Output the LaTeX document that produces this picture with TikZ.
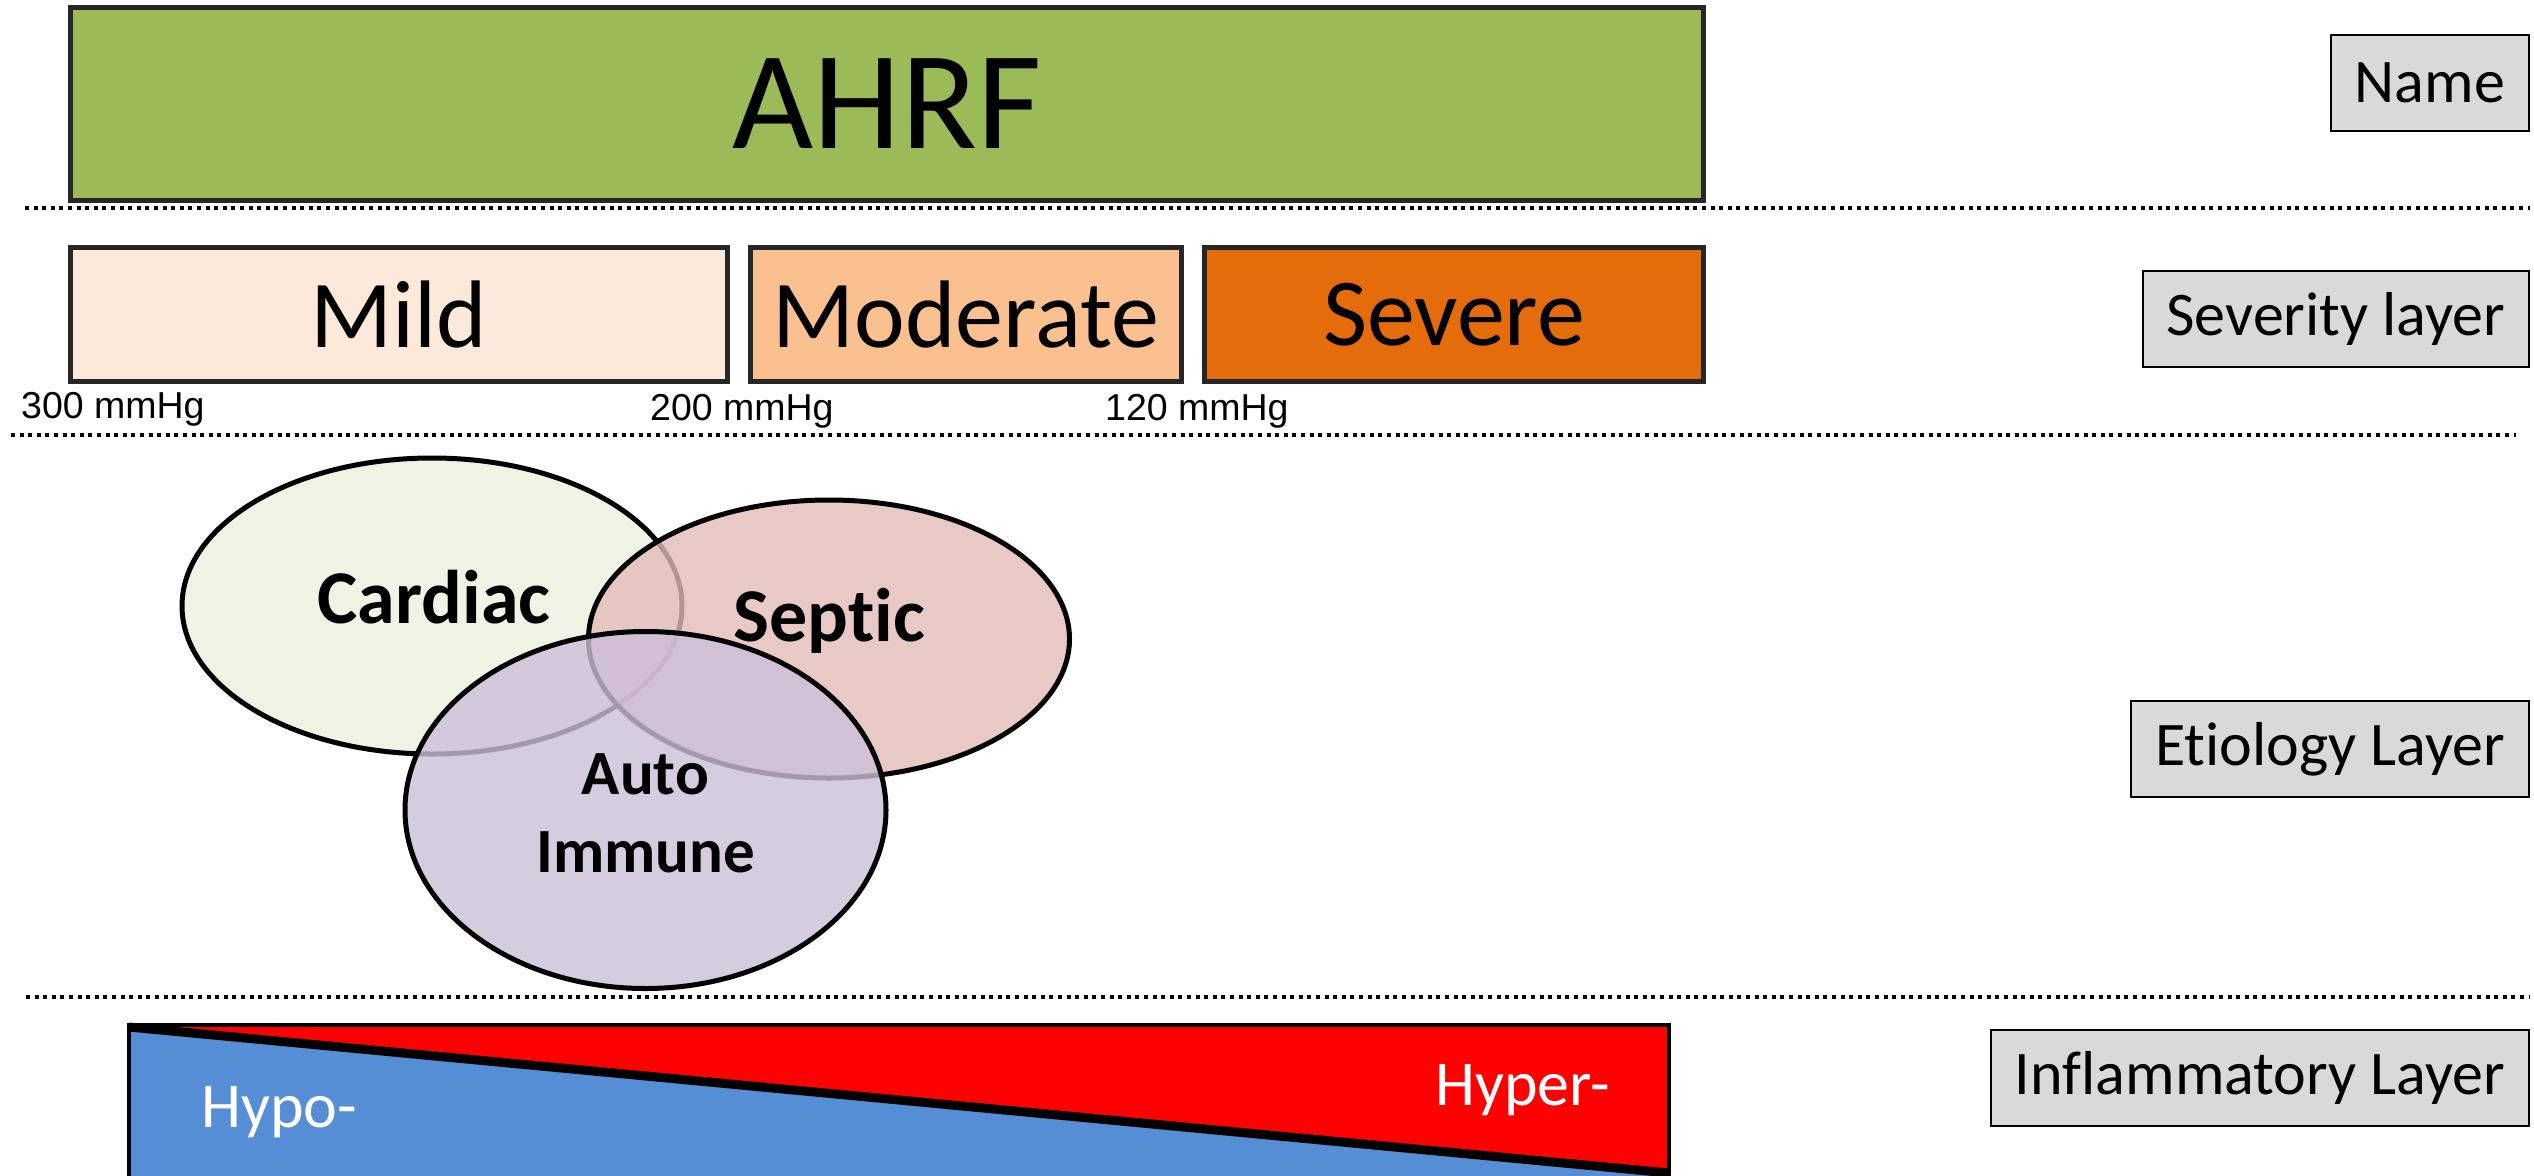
\documentclass[tikz,border=0pt]{standalone}
\usepackage{fontspec}
\setmainfont[Ligatures={NoCommon,NoContextual},Contextuals={NoAlternate}]{Carlito}
\newfontfamily\arialf{Liberation Sans}
\usetikzlibrary{shapes.geometric}
\definecolor{ahrfc}{HTML}{9BBB59}
\definecolor{mildc}{HTML}{FDE9D9}
\definecolor{modc}{HTML}{FAC090}
\definecolor{sevc}{HTML}{E46C0A}
\definecolor{framec}{HTML}{262626}
\definecolor{labc}{HTML}{D9D9D9}
\definecolor{cardc}{RGB}{239,243,228}
\definecolor{septc}{RGB}{227,187,184}
\definecolor{autoc}{RGB}{204,191,216}
\definecolor{hyperc}{HTML}{FF0000}
\definecolor{hypoc}{HTML}{558ED5}
\newcommand\myfs[1]{\fontsize{#1}{#1}\selectfont}
\begin{document}
\begin{tikzpicture}[x=1pt,y=-1pt,
  bigbox/.style={draw=framec,line width=5pt,rectangle,inner sep=0pt},
  layerbox/.style={draw=black,line width=2pt,fill=labc,rectangle,anchor=east,
    minimum height=96pt,inner xsep=24pt,inner ysep=0pt,font=\myfs{62}},
  pres/.style={anchor=base west,inner sep=0pt,font=\arialf\myfs{37.5}},
  dotline/.style={line width=3.5pt,dash pattern=on 4pt off 4.6pt},
  venn/.style={ellipse,draw=black,line width=5pt,inner sep=0pt},
  vtext/.style={inner sep=0pt,font=\bfseries\myfs{76}},
  infl/.style={inner sep=0pt,text=white,font=\myfs{64}}]
\useasboundingbox (0,0) rectangle (2534,1175);

% name layer
\node[bigbox,fill=ahrfc,minimum width=1633pt,minimum height=193pt,font=\myfs{140}] (ahrf) at (887,104) {AHRF};

% dotted separators
\coordinate (d1a) at (25,208);   \coordinate (d1b) at (2530,208);
\coordinate (d2a) at (11,435);   \coordinate (d2b) at (2516,435);
\coordinate (d3a) at (26,997);   \coordinate (d3b) at (2530,997);
\draw[dotline] (d1a) -- (d1b);
\draw[dotline] (d2a) -- (d2b);
\draw[dotline] (d3a) -- (d3b);

% severity layer
\node[bigbox,fill=mildc,minimum width=657pt,minimum height=134pt,font=\myfs{96}] (mild) at (399,314.5) {Mild};
\node[bigbox,fill=modc,minimum width=431pt,minimum height=134pt,font=\myfs{96}] (moderate) at (966,314.5) {Moderate};
\node[bigbox,fill=sevc,minimum width=499pt,minimum height=134pt,font=\myfs{96}] (severe) at (1454,314.5) {Severe};
\node[pres] (p300) at (21,418) {300 mmHg};
\node[pres] (p200) at (650,420) {200 mmHg};
\node[pres] (p120) at (1105,420) {120 mmHg};

% etiology layer
\node[venn,fill=cardc,minimum width=500pt,minimum height=296pt] (cardiac) at (432,606) {};
\node[venn,fill=septc,fill opacity=0.8,minimum width=481pt,minimum height=278pt] (septic) at (829,639) {};
\node[venn,fill=autoc,fill opacity=0.8,minimum width=481pt,minimum height=357pt] (auto) at (645.5,810) {};
\node[vtext,anchor=base] (tcard) at (434,623) {Cardiac};
\node[vtext,anchor=base] (tsept) at (829.5,641) {Septic};
\node[inner sep=0pt,align=center,font=\bfseries\fontsize{63}{78}\selectfont] (tauto) at (645.5,813) {Auto\\Immune};

% inflammatory layer
\coordinate (tl) at (129,1025);
\coordinate (tr) at (1669,1025);
\coordinate (bl) at (129,1180);
\coordinate (br) at (1669,1180);
\coordinate (ds) at (129,1027);
\coordinate (de) at (1669,1173);
\fill[hyperc] (tl) rectangle (br);
\fill[hypoc] (ds) -- (de) -- (br) -- (bl) -- cycle;
\draw[line width=9pt] (ds) -- (de);
\draw[line width=4pt] (bl) -- (tl) -- (tr) -- (br);
\node[infl,anchor=base west] (hypo) at (201,1127) {Hypo-};
\node[infl,anchor=base east] (hyper) at (1610,1105) {Hyper-};

% layer labels
\node[layerbox] (lname) at (2530,83) {Name};
\node[layerbox] (lsev) at (2530,319) {Severity layer};
\node[layerbox] (letio) at (2530,749) {Etiology Layer};
\node[layerbox] (linfl) at (2530,1077.5) {Inflammatory Layer};
\end{tikzpicture}
\end{document}
